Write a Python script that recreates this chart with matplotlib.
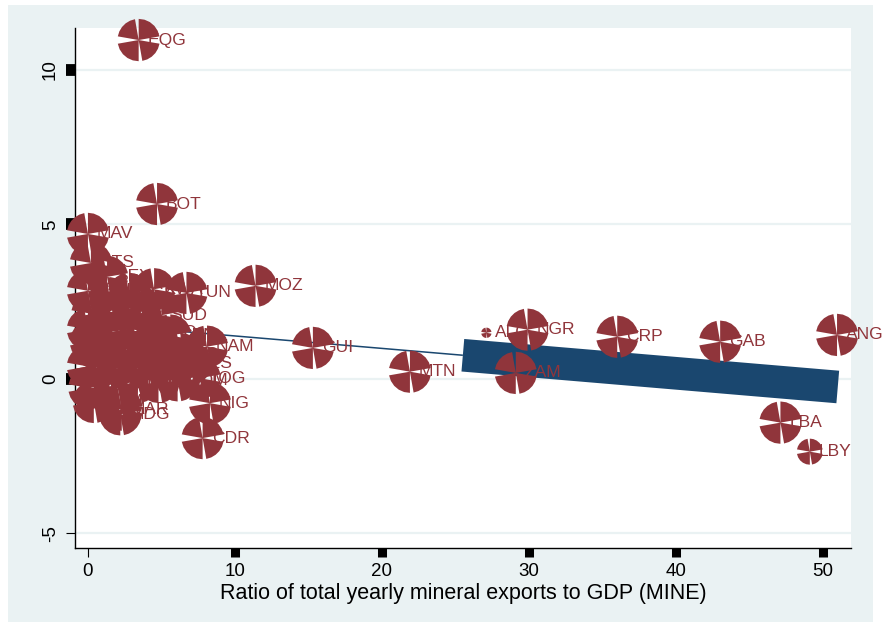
import numpy as np
import matplotlib
matplotlib.use("Agg")
import matplotlib.pyplot as plt
from matplotlib.path import Path
from matplotlib.patches import Rectangle

plt.rcParams['font.family'] = ['Liberation Sans', 'DejaVu Sans']

# ---- data -------------------------------------------------------------
countries = [
    "EQG", "BOT", "MAV", "STS", "SEY", "TUN", "SUD", "NAM", "TOG", "NIG",
    "CDR", "MAR", "MDG", "MOZ", "GUI", "MTN", "ALG", "NGR", "ZAM", "CRP",
    "GAB", "ANG", "LBA", "LBY",
    "ETH", "KEN", "UGA", "RWA", "BUI", "SEN", "GAM", "MLI", "BFO", "NIR",
    "CHA", "CAO", "CEN", "CON", "DRC", "BEN", "GHA", "IVO", "LBR", "SIE",
    "GNB", "MAW", "ZIM", "LES", "SWA", "TAZ", "DJI", "ERI", "COM", "CAP",
    "SOM", "MAS",
]
mine = [
    3.45, 4.7, 0.0, 0.2, 1.3, 6.7, 5.0, 8.1, 7.6, 8.3,
    7.8, 2.3, 2.2, 11.4, 15.3, 21.9, 27.1, 29.9, 29.1, 36.0,
    43.0, 50.95, 47.1, 49.1,
    0.0, 1.5, 2.8, 4.5, 0.3, 2.0, 0.6, 3.6, 0.0, 1.2,
    2.6, 4.2, 5.6, 0.5, 1.9, 3.3, 4.9, 6.3, 0.0, 1.4,
    2.7, 4.1, 5.5, 7.0, 0.1, 2.0, 3.4, 4.8, 6.1, 0.6,
    0.4, 0.2,
]
growth = [
    10.97, 5.66, 4.69, 3.75, 3.3, 2.78, 2.06, 1.04, 0.02, -0.79,
    -1.92, -1.0, -1.15, 3.01, 1.0, 0.23, 1.49, 1.59, 0.19, 1.36,
    1.2, 1.42, -1.42, -2.36,
    2.85, 2.6, 2.75, 2.9, 2.1, 2.2, 0.45, 2.3, 1.6, 1.5,
    1.6, 1.5, 1.4, 1.0, 0.9, 1.0, 0.9, 0.8, 0.4, 0.3,
    0.4, 0.3, 0.4, 0.5, -0.3, -0.2, -0.1, -0.1, -0.05, -0.27,
    -0.75, 1.2,
]
# analytic weights (marker area)
weight = [1.0] * 23 + [0.38] + [1.0] * 32
weight[16] = 0.06   # ALG

# weighted linear fit shown on the chart
fit_intercept = 1.79
fit_slope = -0.0403
fit_x_range = (0.0, 51.0)
fit_band_from = 25.5

x_ticks = [0, 10, 20, 30, 40, 50]
y_ticks = [-5, 0, 5, 10]
x_label = "Ratio of total yearly mineral exports to GDP (MINE)"

# ---- styles -----------------------------------------------------------
MAROON = "#90353B"
NAVY = "#1A476F"
PANEL = "#EAF2F3"


def petal_marker():
    """Circle split in four sectors separated by V-shaped notches."""
    notches = [(0, 10), (95, 5), (180, 10), (275, 5)]
    verts, codes = [], []
    for i in range(4):
        c0, h0 = notches[i]
        c1, h1 = notches[(i + 1) % 4]
        if i == 3:
            c1 += 360
        th = np.radians(np.linspace(c0 + h0, c1 - h1, 6))
        verts.append((0.0, 0.0))
        codes.append(Path.MOVETO)
        for t in th:
            verts.append((np.cos(t), np.sin(t)))
            codes.append(Path.LINETO)
        verts.append((0.0, 0.0))
        codes.append(Path.CLOSEPOLY)
    return Path(verts, codes)


fig = plt.figure(figsize=(8.83, 6.30), dpi=100, facecolor="white")
fig.patches.append(Rectangle((8 / 883, 8 / 630), 865 / 883, 617 / 630,
                             transform=fig.transFigure, facecolor=PANEL,
                             edgecolor="none", zorder=-10))

ax = fig.add_axes([75 / 883, 1 - 548 / 630, 776 / 883, 520 / 630])
ax.set_facecolor("white")
ax.set_xlim(-0.88, 51.9)
ax.set_ylim(-5.48, 11.36)

for s in ("top", "right"):
    ax.spines[s].set_visible(False)
for s in ("left", "bottom"):
    ax.spines[s].set_color("black")
    ax.spines[s].set_linewidth(1.0)

ax.set_axisbelow(True)
ax.yaxis.grid(True, color=PANEL, linewidth=1.6)
ax.xaxis.grid(False)

# fitted line: thin part then heavy part
xa = np.array([fit_x_range[0], fit_band_from])
xb = np.array([fit_band_from, fit_x_range[1]])
ax.plot(xa, fit_intercept + fit_slope * xa, color=NAVY, lw=1.1,
        solid_capstyle="butt", zorder=2)
ax.plot(xb, fit_intercept + fit_slope * xb, color=NAVY, lw=23.5,
        solid_capstyle="butt", zorder=2)

# labels sit under the markers
for name, xv, yv in zip(countries, mine, growth):
    ax.annotate(name, (xv, yv), xytext=(6.5, 0), textcoords="offset points",
                ha="left", va="center", fontsize=12.6, color=MAROON,
                zorder=3, annotation_clip=False)

sizes = 930 * np.array(weight)
ax.scatter(mine, growth, s=sizes, marker=petal_marker(), color=MAROON,
           linewidths=0, zorder=4, clip_on=False)

# axes and ticks
ax.set_xticks(x_ticks)
ax.set_xticklabels([str(t) for t in x_ticks])
ax.set_yticks(y_ticks)
ax.set_yticklabels([str(t) for t in y_ticks], rotation=90, va="center")
ax.tick_params(axis="x", direction="out", length=6.5, width=0.8,
               pad=4.5, labelsize=13.5, colors="black")
ax.tick_params(axis="y", direction="out", length=6.5, width=0.8,
               pad=5, labelsize=13.5, colors="black")
for t, v in zip(ax.xaxis.get_major_ticks(), x_ticks):
    if v != 0:
        t.tick1line.set_markeredgewidth(6.5)
for t, v in zip(ax.yaxis.get_major_ticks(), y_ticks):
    if v != -5:
        t.tick1line.set_markeredgewidth(8.5)

ax.set_xlabel(x_label, fontsize=15.5, labelpad=2)

fig.savefig("out.png", dpi=100, facecolor="white")
